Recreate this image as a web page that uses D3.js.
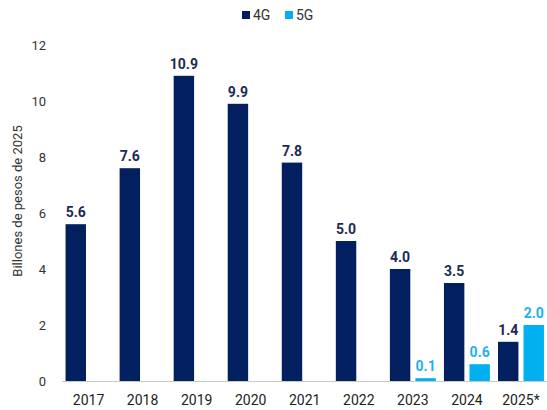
<!DOCTYPE html>
<meta charset="utf-8">
<html>
<script src="https://d3js.org/d3.v7.min.js"></script>
<style>
  body { margin: 0; background: #fff; }
  text { font-family: Roboto, "Liberation Sans", sans-serif; }
</style>
<div id="chart"></div>
<script>

// data
var years = ["2017", "2018", "2019", "2020", "2021", "2022", "2023", "2024", "2025*"];
var series = ["4G", "5G"];
var values4G = [5.6, 7.6, 10.9, 9.9, 7.8, 5.0, 4.0, 3.5, 1.4];
var values5G = [null, null, null, null, null, null, 0.1, 0.6, 2.0];
var yTicks = [0, 2, 4, 6, 8, 10, 12];

var width = 547,
    height = 410;

var color = d3.scaleOrdinal()
  .domain(series)
  .range(["#02205f", "#00b0f0"]);
var labelColor = d3.scaleOrdinal()
  .domain(series)
  .range(["#1c2a55", "#1cb2ee"]);

var svg = d3.select("#chart")
  .append("svg")
    .attr("width", width)
    .attr("height", height);

var x0 = d3.scaleBand()
  .domain(years)
  .range([61.5, 548])
  .paddingInner(0.15)
  .paddingOuter(0.075);

var x1 = d3.scaleBand()
  .domain(series)
  .range([0, x0.bandwidth()])
  .paddingInner(0.2);

var y = d3.scaleLinear()
  .domain([0, 12])
  .range([381, 45]);

// y tick labels
svg.selectAll("text.ytick")
  .data(yTicks)
  .enter().append("text")
    .attr("class", "ytick")
    .attr("x", 46)
    .attr("y", function(d) { return y(d); })
    .attr("dy", "0.35em")
    .attr("text-anchor", "end")
    .attr("font-size", "13px")
    .attr("fill", "#333")
    .text(function(d) { return d; });

// y axis title
svg.append("text")
  .attr("transform", "translate(22,201) rotate(-90)")
  .attr("text-anchor", "middle")
  .attr("font-size", "13px")
  .attr("fill", "#333")
  .text("Billones de pesos de 2025");

// rows of data per year
var rows = years.map(function(yr, i) {
  return { year: yr, vals: [
    { key: "4G", value: values4G[i] },
    { key: "5G", value: values5G[i] }
  ].filter(function(d) { return d.value != null; }) };
});

var groups = svg.selectAll("g.year")
  .data(rows)
  .enter().append("g")
    .attr("class", "year")
    .attr("transform", function(d) { return "translate(" + x0(d.year) + ",0)"; });

groups.selectAll("rect")
  .data(function(d) { return d.vals; })
  .enter().append("rect")
    .attr("x", function(d) { return x1(d.key); })
    .attr("y", function(d) { return y(d.value); })
    .attr("width", x1.bandwidth())
    .attr("height", function(d) { return y(0) - y(d.value); })
    .attr("fill", function(d) { return color(d.key); });

groups.selectAll("text.val")
  .data(function(d) { return d.vals; })
  .enter().append("text")
    .attr("class", "val")
    .attr("x", function(d) { return x1(d.key) + x1.bandwidth() / 2; })
    .attr("y", function(d) { return y(d.value) - 7; })
    .attr("text-anchor", "middle")
    .attr("font-size", "14px")
    .attr("font-weight", "bold")
    .attr("fill", function(d) { return labelColor(d.key); })
    .text(function(d) { return d.value.toFixed(1); });

// baseline
svg.append("line")
  .attr("x1", 62)
  .attr("x2", 547)
  .attr("y1", y(0) + 0.5)
  .attr("y2", y(0) + 0.5)
  .attr("stroke", "#c8c8c8")
  .attr("stroke-width", 1);

// x labels
svg.selectAll("text.xtick")
  .data(years)
  .enter().append("text")
    .attr("class", "xtick")
    .attr("x", function(d) { return x0(d) + x0.bandwidth() / 2; })
    .attr("y", 405)
    .attr("text-anchor", "middle")
    .attr("font-size", "14px")
    .attr("fill", "#222")
    .text(function(d) { return d; });

// legend
var legend = svg.selectAll("g.legend")
  .data(series)
  .enter().append("g")
    .attr("class", "legend")
    .attr("transform", function(d, i) { return "translate(" + (242 + i * 43) + ",11)"; });

legend.append("rect")
  .attr("width", 8)
  .attr("height", 8)
  .attr("fill", function(d) { return color(d); });

legend.append("text")
  .attr("x", 11)
  .attr("y", 4)
  .attr("dy", "0.35em")
  .attr("font-size", "14px")
  .attr("fill", "#333")
  .text(function(d) { return d; });

</script>
</html>
